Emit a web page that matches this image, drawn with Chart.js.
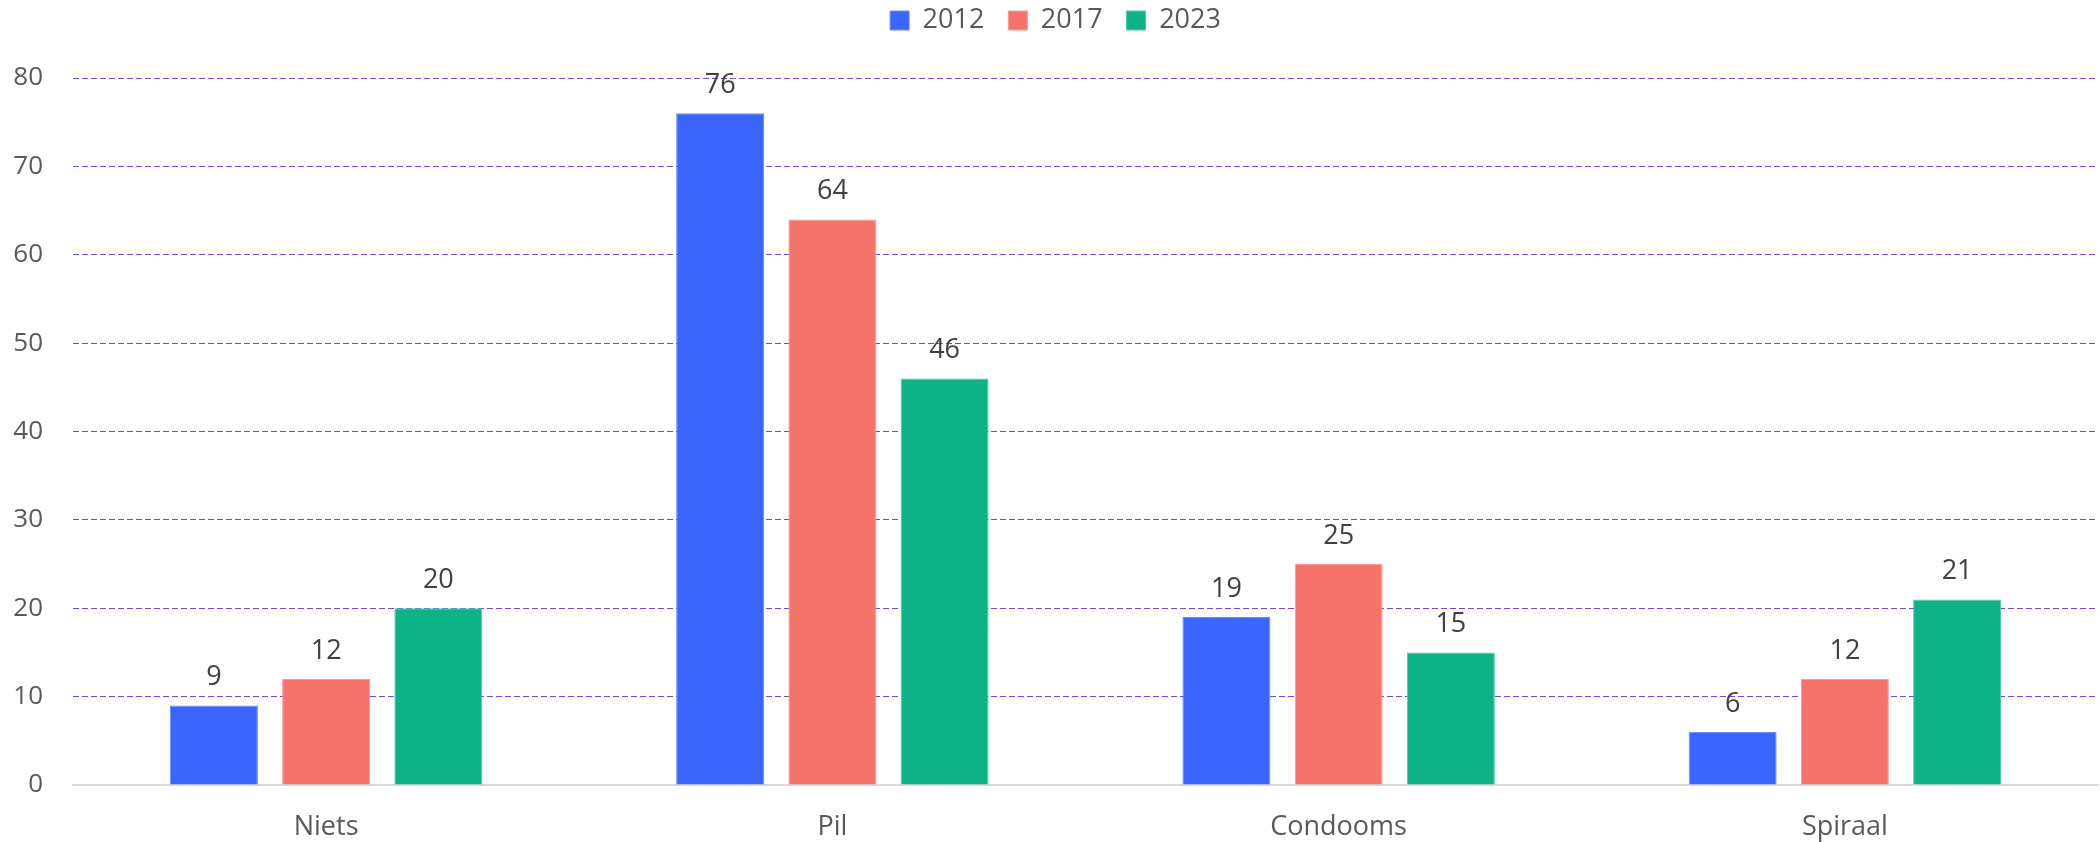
<!DOCTYPE html>
<html>
<head>
<meta charset="utf-8">
<script src="https://cdn.jsdelivr.net/npm/chart.js@4"></script>
<style>
  html, body { margin: 0; padding: 0; background: #fff; }
  #wrap { width: 2100px; height: 842px; }
</style>
</head>
<body>
<div id="wrap"><canvas id="chart" width="2100" height="842"></canvas></div>
<script>
  // data
  const categories = ["Niets", "Pil", "Condooms", "Spiraal"];
  const years = ["2012", "2017", "2023"];
  const values2012 = [9, 76, 19, 6];
  const values2017 = [12, 64, 25, 12];
  const values2023 = [20, 46, 15, 21];
  const yTicks = [0, 10, 20, 30, 40, 50, 60, 70, 80];

  const fills = ["#3a66fe", "#f5736b", "#0db386"];
  const edges = ["#6b8bff", "#f89a94", "#4cc9a6"];

  // small inline plugin for the value labels above each bar
  const valueLabels = {
    id: "valueLabels",
    afterDatasetsDraw(chart) {
      const ctx = chart.ctx;
      ctx.save();
      ctx.font = "27px 'Open Sans'";
      ctx.fillStyle = "#404040";
      ctx.textAlign = "center";
      ctx.textBaseline = "alphabetic";
      chart.data.datasets.forEach((ds, i) => {
        const meta = chart.getDatasetMeta(i);
        meta.data.forEach((bar, j) => {
          ctx.fillText(String(ds.data[j]), bar.x, bar.y - 20);
        });
      });
      ctx.restore();
    }
  };

  // extra room between legend and plot
  const legendGap = {
    id: "legendGap",
    beforeInit(chart) {
      const fit = chart.legend.fit;
      chart.legend.fit = function () {
        fit.bind(chart.legend)();
        this.height += 34;
      };
    }
  };

  const seriesData = [values2012, values2017, values2023];

  new Chart(document.getElementById("chart"), {
    type: "bar",
    data: {
      labels: categories,
      datasets: years.map((y, i) => ({
        label: y,
        data: seriesData[i],
        backgroundColor: fills[i],
        borderColor: edges[i],
        borderWidth: 1,
        categoryPercentage: 0.665,
        barPercentage: 0.784
      }))
    },
    options: {
      responsive: false,
      animation: false,
      layout: { padding: { left: 13, right: 2, top: -17, bottom: 0 } },
      plugins: {
        legend: {
          position: "top",
          labels: {
            boxWidth: 19,
            boxHeight: 19,
            padding: 24,
            color: "#595959",
            font: { family: "'Open Sans'", size: 27 }
          }
        },
        tooltip: { enabled: false }
      },
      scales: {
        x: {
          afterFit: (scale) => { scale.height = 57; },
          grid: { display: false },
          border: { display: true, color: "#d9d9d9", width: 2 },
          ticks: {
            color: "#595959",
            padding: 18,
            font: { family: "'Open Sans'", size: 27 }
          }
        },
        y: {
          min: 0,
          max: 80,
          afterBuildTicks: (scale) => { scale.ticks = yTicks.map(v => ({ value: v })); },
          afterFit: (scale) => { scale.width = 60; },
          border: { display: false, dash: [6, 3] },
          grid: {
            drawTicks: false,
            lineWidth: 1,
            color: (c) => (c.tick && c.tick.value === 0) ? "rgba(0,0,0,0)" : "#7645e0"
          },
          ticks: {
            color: "#595959",
            padding: 30,
            font: { family: "'Open Sans'", size: 26 }
          }
        }
      }
    },
    plugins: [valueLabels, legendGap]
  });
</script>
</body>
</html>
